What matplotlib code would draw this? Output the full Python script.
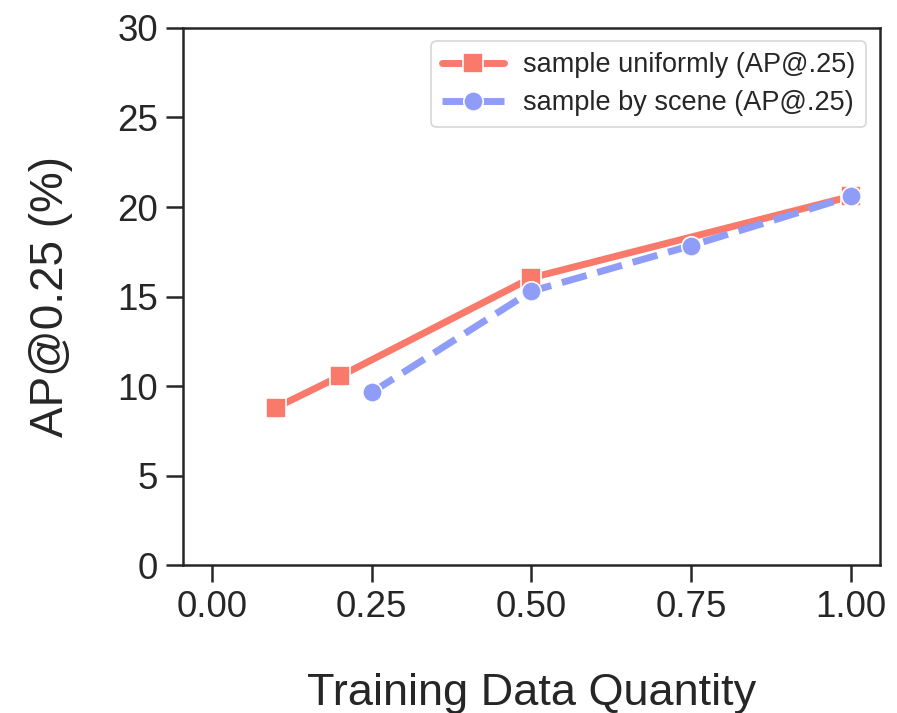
import matplotlib
matplotlib.use("Agg")
import matplotlib.pyplot as plt
import seaborn as sns

# data
uniform_x = [0.1, 0.2, 0.5, 1.0]
uniform_y = [8.8, 10.55, 16.05, 20.6]
scene_x = [0.25, 0.5, 0.75, 1.0]
scene_y = [9.65, 15.3, 17.85, 20.6]
xticks = [0.0, 0.25, 0.5, 0.75, 1.0]
yticks = [0, 5, 10, 15, 20, 25, 30]

sns.set_style("ticks")
plt.rcParams["font.family"] = ["Liberation Sans", "DejaVu Sans"]

fig = plt.figure(figsize=(8.97, 7.13), dpi=100)
ax = fig.add_axes([0.204, 0.207, 0.777, 0.754])

ax.plot(uniform_x, uniform_y, color="#F97A6A", lw=5, marker="s", ms=14,
        mec="white", mew=1.2, label="sample uniformly (AP@.25)")
ax.plot(scene_x, scene_y, color="#8F9DF8", lw=5, ls="--", marker="o", ms=14,
        mec="white", mew=1.2, label="sample by scene (AP@.25)")

ax.set_xlim(-0.045, 1.045)
ax.set_ylim(0, 30)
ax.set_xticks(xticks)
ax.set_xticklabels([f"{t:.2f}" for t in xticks])
ax.set_yticks(yticks)

for s in ax.spines.values():
    s.set_linewidth(1.8)
    s.set_color("#262626")
ax.tick_params(axis="both", length=12, width=1.8, labelsize=26.5,
               colors="#262626", pad=6)

ax.set_xlabel("Training Data Quantity", fontsize=32.5, labelpad=34, color="#262626")
ax.set_ylabel("AP@0.25 (%)", fontsize=33, labelpad=32, color="#262626")

leg = ax.legend(loc="upper right", fontsize=19.5, frameon=True, fancybox=True,
                handlelength=2.3, handletextpad=0.7, borderpad=0.4,
                labelspacing=0.45, borderaxespad=0.5)
leg.get_frame().set_edgecolor("#cccccc")
leg.get_frame().set_linewidth(1.2)
for t in leg.get_texts():
    t.set_color("#262626")

fig.savefig("out.png", dpi=100)
